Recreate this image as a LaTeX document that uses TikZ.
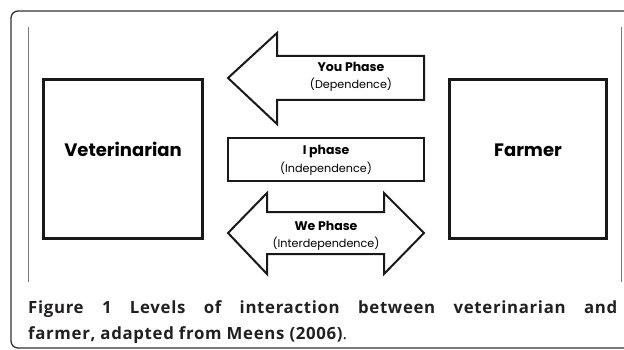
\documentclass[tikz,border=0pt]{standalone}
\usepackage{fontspec}
\setmainfont{Poppins}
\newfontfamily\capfont{Open Sans}[LetterSpace=4]
\definecolor{framegray}{HTML}{333333}
\definecolor{linegray}{HTML}{7A7A7A}
\definecolor{captext}{HTML}{231F20}
\begin{document}
\begin{tikzpicture}[x=1pt,y=-1pt,
  frameline/.style={draw=framegray,line width=1.3pt,rounded corners=7pt},
  sideline/.style={draw=linegray,line width=1pt},
  bigbox/.style={draw=black!90,line width=3pt,inner sep=0pt},
  phaseshape/.style={draw=black!90,line width=2pt,line join=miter,fill=white},
  bigname/.style={font=\fontsize{18}{21}\selectfont\bfseries,anchor=base,inner sep=0pt},
  phasename/.style={font=\fontsize{12.5}{15}\selectfont\bfseries,anchor=base,inner sep=0pt},
  phasesub/.style={font=\fontsize{11.2}{13}\selectfont,anchor=base,inner sep=0pt},
  capline/.style={font=\fontsize{16.8}{21}\capfont\bfseries,text=captext,anchor=base west,inner sep=0pt}]
\useasboundingbox (0,0) rectangle (624,350);
\begin{scope}
\clip (0,0) rectangle (624,350);
\draw[frameline] (11,11) rectangle (650,348);
\end{scope}
\coordinate (lt) at (28,27);
\coordinate (lb) at (28,282);
\coordinate (rt) at (621.5,27);
\coordinate (rb) at (621.5,282);
\draw[sideline] (lt) -- (lb);
\draw[sideline] (rt) -- (rb);
% big boxes
\node[bigbox,minimum width=159pt,minimum height=159pt] (vet) at (123,159) {};
\node[bigbox,minimum width=157pt,minimum height=159pt] (farm) at (528,159) {};
\node[bigname] (vetname) at (123,157) {Veterinarian};
\node[bigname] (farmname) at (528,157) {Farmer};
% You phase arrow
\draw[phaseshape] (228,78) -- (277,33) -- (277,56) -- (424,56) -- (424,100) -- (277,100) -- (277,124) -- cycle;
\node[phasename] (you) at (351,72) {You Phase};
\node[phasesub] (yousub) at (351,89) {(Dependence)};
% I phase box
\draw[phaseshape] (228,138) rectangle (424,181);
\node[phasename] (iph) at (326,155) {I phase};
\node[phasesub] (iphsub) at (326,172) {(Independence)};
% We phase double arrow
\draw[phaseshape] (228,233) -- (267,193) -- (267,212) -- (384,212) -- (384,193) -- (424,233) -- (384,274) -- (384,254) -- (267,254) -- (267,274) -- cycle;
\node[phasename] (we) at (326,230) {We Phase};
\node[phasesub] (wesub) at (326,247) {(Interdependence)};
% caption
\node[capline] (cap1) at (28,313) {\makebox[589pt][s]{Figure 1 Levels of interaction between veterinarian and}};
\node[capline] (cap2) at (28,339) {farmer, adapted from Meens (2006)\mdseries.};
\end{tikzpicture}
\end{document}
